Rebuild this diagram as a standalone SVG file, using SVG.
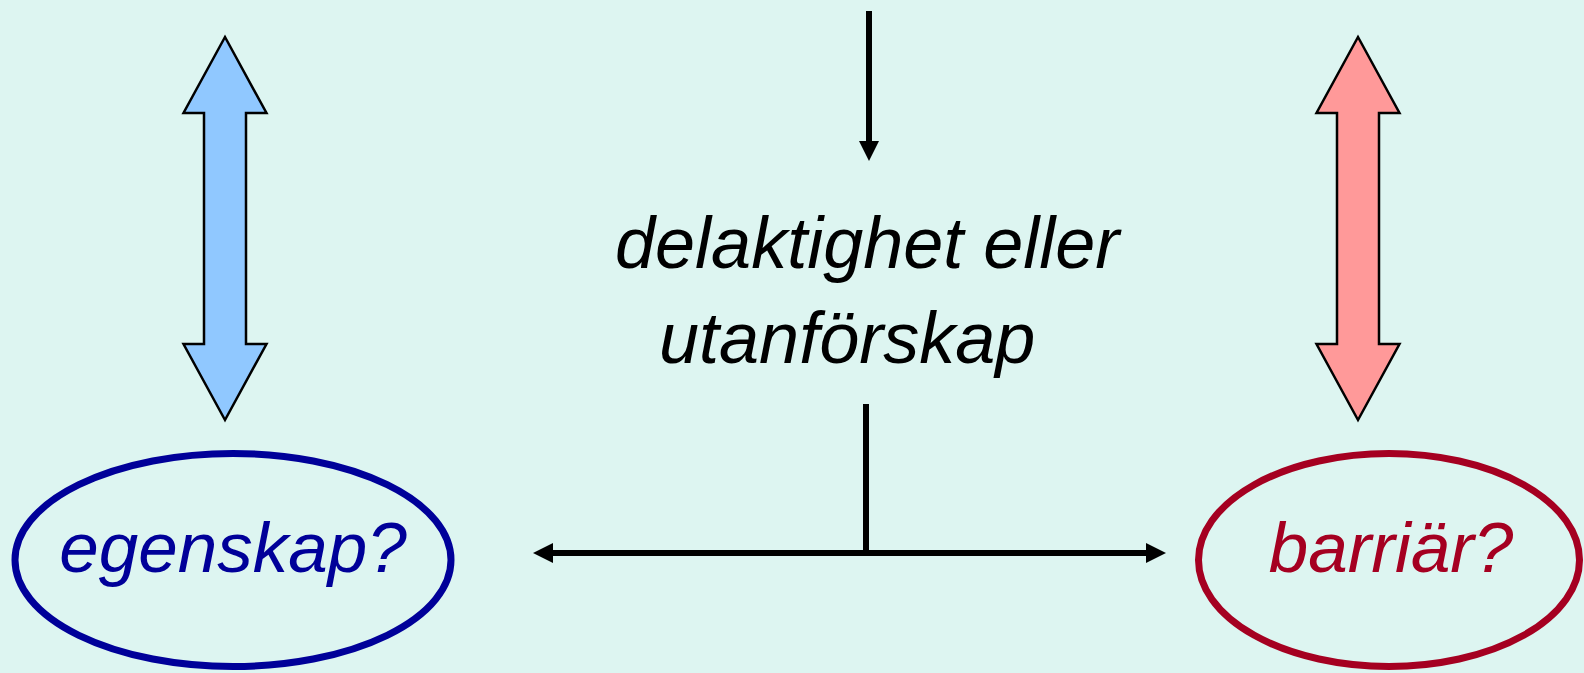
<svg xmlns="http://www.w3.org/2000/svg" width="1584" height="673" viewBox="0 0 1584 673">
<style>
.txt{font-family:"Liberation Sans",Arial,sans-serif;font-style:italic;font-size:72px}
.node{font-size:71px}
.dbl{stroke:#000;stroke-width:2.5;stroke-linejoin:miter}
.conn{stroke:#000;stroke-width:6;fill:none}
</style>
<defs>
<marker id="ah" viewBox="0 0 20 20" refX="0" refY="10" markerWidth="20" markerHeight="20" markerUnits="userSpaceOnUse" orient="auto">
<path d="M0,0 L20,10 L0,20 Z" fill="#000"/>
</marker>
</defs>
<rect width="1584" height="673" fill="#DDF5F1"/>
<g id="arrow-left">
<path class="dbl" fill="#90C8FF" d="M225,37 L266.5,113 L246,113 L246,344 L266.5,344 L225,420 L183.5,344 L204,344 L204,113 L183.5,113 Z"/>
</g>
<g id="arrow-right">
<path class="dbl" fill="#FF9999" d="M1358,37 L1399.5,113 L1379,113 L1379,344 L1399.5,344 L1358,420 L1316.5,344 L1337,344 L1337,113 L1316.5,113 Z"/>
</g>
<g id="center-text">
<text class="txt" x="615" y="268" fill="#000">delaktighet eller</text>
<text class="txt" x="659" y="363" fill="#000">utanförskap</text>
</g>
<g id="node-egenskap">
<ellipse cx="233" cy="560" rx="218" ry="106.5" fill="none" stroke="#000099" stroke-width="7"/>
<text class="txt node" x="233" y="572" text-anchor="middle" fill="#000099">egenskap?</text>
</g>
<g id="node-barriar">
<ellipse cx="1389" cy="560" rx="190.5" ry="106.5" fill="none" stroke="#A50021" stroke-width="7"/>
<text class="txt node" x="1391" y="572" text-anchor="middle" fill="#A50021">barriär?</text>
</g>
<g id="connectors">
<line class="conn" x1="869" y1="11" x2="869" y2="141" marker-end="url(#ah)"/>
<line class="conn" x1="866" y1="404" x2="866" y2="553"/>
<line class="conn" x1="553" y1="553" x2="1146" y2="553" marker-end="url(#ah)"/>
<line class="conn" x1="866" y1="553" x2="553" y2="553" marker-end="url(#ah)"/>
</g>
</svg>
